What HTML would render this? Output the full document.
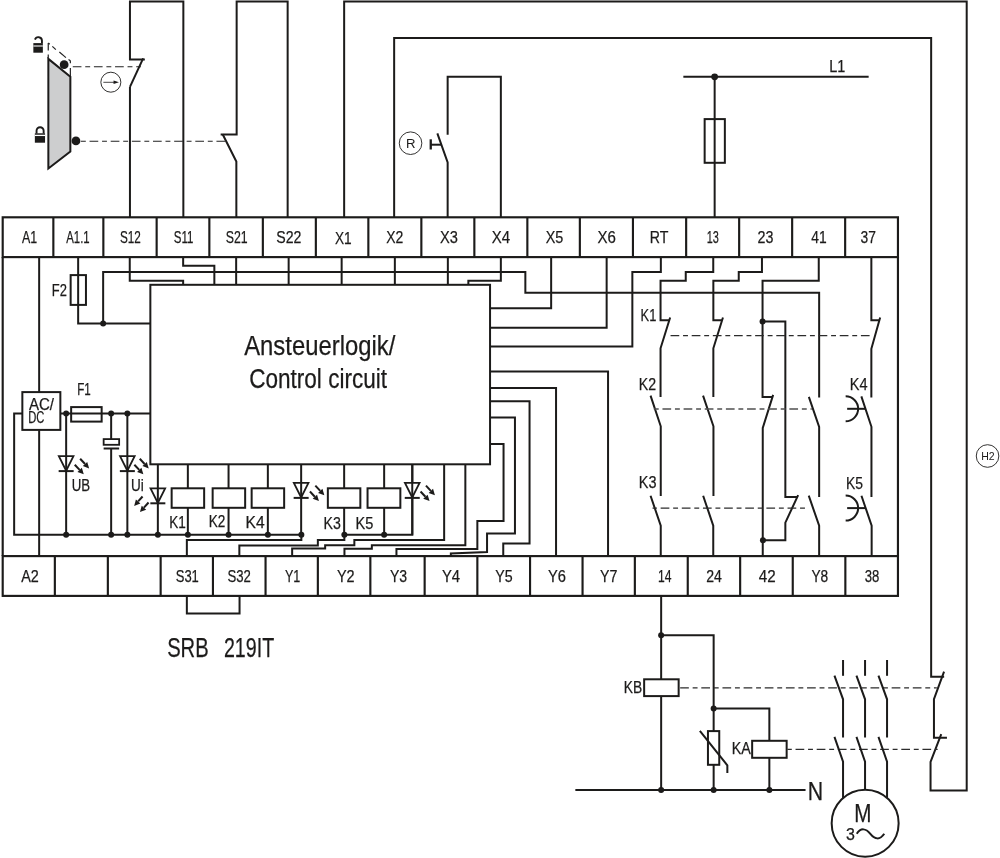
<!DOCTYPE html>
<html><head><meta charset="utf-8"><title>SRB 219IT wiring diagram</title>
<style>
html,body{margin:0;padding:0;background:#fff;}
body{width:1000px;height:858px;overflow:hidden;}
svg{display:block;will-change:transform;}
svg text{font-family:"Liberation Sans",sans-serif;fill:#1c1b1a;stroke:#1c1b1a;stroke-width:0.25px;stroke-linejoin:round;}
</style></head><body>
<svg width="1000" height="858" viewBox="0 0 1000 858" fill="none" stroke="#1c1b1a" stroke-linecap="butt" stroke-linejoin="miter">
<rect x="0" y="0" width="1000" height="858" fill="#fff" stroke="none"/>
<g transform="translate(0.35,0.3)">
<polyline points="129.6,217 129.6,86.6" stroke-width="2.0" />
<polyline points="129.6,86.6 142.8,58" stroke-width="2.0" />
<polyline points="144.5,59.2 129.6,59.2 129.6,1.15 183,1.15 183,217" stroke-width="2.0" />
<polyline points="236,217 236,161.3 222.3,134" stroke-width="2.0" />
<polyline points="220.3,134.3 236.3,134.3 236.3,1.15 287.3,1.15 287.3,217" stroke-width="2.0" />
<polyline points="343.8,217 343.8,1.15 966.35,1.15 966.35,790.2 930.2,790.2 930.2,761.6 940.9,733.8" stroke-width="2.0" />
<polyline points="946.6,737.4 933.6,737.4 933.6,698.8 943.7,671.4" stroke-width="2.0" />
<polyline points="943.8,676.4 930.8,676.4 930.8,37.6 393.8,37.6 393.8,217" stroke-width="2.0" />
<polyline points="447.3,217 447.3,162 437,133" stroke-width="2.0" />
<polyline points="447.3,134.4 447.3,76.5 500.5,76.5 500.5,217" stroke-width="2.0" />
<polyline points="430.4,144.4 441.2,144.4" stroke-width="2.0" />
<polyline points="430.4,139 430.4,149.2" stroke-width="2.3" />
<circle cx="410.2" cy="142.9" r="11.3" stroke-width="0.9"/>
<text x="410.4" y="147.7" font-size="13.2" text-anchor="middle" style="stroke:none">R</text>
<polyline points="683,76.5 868.3,76.5" stroke-width="2.0" />
<polyline points="714.3,76.5 714.3,217" stroke-width="2.0" />
<circle cx="714.3" cy="76.5" r="3.4" fill="#1c1b1a" stroke="none"/>
<rect x="704.3" y="118.8" width="20.2" height="43.7" stroke-width="2.0" fill="none"/>
<text x="828.9" y="71.8" font-size="17" textLength="16.1" lengthAdjust="spacingAndGlyphs" >L1</text>
<polygon points="48.0,58.6 70.0,76.4 70.0,151.2 48.0,168.2" fill="#cdcecf" stroke-width="2" stroke-linejoin="miter"/>
<line x1="47.9" y1="42.6" x2="47.9" y2="50.3" stroke="#222" stroke-width="1.2"/>
<line x1="47.9" y1="54.2" x2="47.9" y2="58" stroke="#222" stroke-width="1.2"/>
<line x1="47.9" y1="42.7" x2="49.4" y2="43.9" stroke="#222" stroke-width="1.2"/>
<line x1="52" y1="46.1" x2="55.5" y2="49.3" stroke="#222" stroke-width="1.2"/>
<line x1="59" y1="51.7" x2="65.6" y2="57.3" stroke="#222" stroke-width="1.2"/>
<line x1="68.2" y1="59.3" x2="70.0" y2="60.5" stroke="#222" stroke-width="1.2"/>
<line x1="70.0" y1="60.3" x2="70.0" y2="63.0" stroke="#222" stroke-width="1.2"/>
<line x1="70.0" y1="67.8" x2="70.0" y2="76" stroke="#222" stroke-width="1.2"/>
<circle cx="63.8" cy="64.4" r="4.4" fill="#1c1b1a" stroke="none"/>
<circle cx="75.6" cy="140.6" r="4.4" fill="#1c1b1a" stroke="none"/>
<line x1="71.5" y1="66.4" x2="140.6" y2="66.4" stroke="#222" stroke-width="1.15" stroke-dasharray="8.7 3.8 4.9 3.75" stroke-dashoffset="20.25"/>
<line x1="79.5" y1="140.9" x2="226" y2="140.9" stroke="#222" stroke-width="1.15" stroke-dasharray="8.7 3.8 4.9 3.75" stroke-dashoffset="11.45"/>
<circle cx="110.5" cy="81.9" r="10" stroke-width="0.9"/>
<line x1="103" y1="82" x2="116" y2="82" stroke-width="0.8"/>
<polygon points="118.6,82 113.2,80.2 113.2,83.8" fill="#1c1b1a" stroke="none"/>
<rect x="33.0" y="42.8" width="9.5" height="9.6" fill="#1c1b1a" stroke="none"/>
<line x1="33.0" y1="45.7" x2="42.5" y2="45.7" stroke="#ddd" stroke-width="1.3"/>
<path d="M41.6,43 V40.3 A3.6,3.6 0 0 0 34.6,39.3" stroke-width="1.9"/>
<rect x="34.5" y="133.0" width="10.2" height="9.4" fill="#1c1b1a" stroke="none"/>
<line x1="34.5" y1="135.1" x2="44.7" y2="135.1" stroke="#fff" stroke-width="1.3"/>
<path d="M36.2,133.2 V130.5 A3.55,3.55 0 0 1 43.3,130.5 V133.2" stroke-width="1.9"/>
<rect x="2.35" y="217" width="895.25" height="39.8" stroke-width="2.15" fill="none"/>
<rect x="2.35" y="555.8" width="895.25" height="39.8" stroke-width="2.15" fill="none"/>
<polyline points="2.35,256.8 2.35,555.8" stroke-width="2.15" />
<polyline points="897.6,256.8 897.6,555.8" stroke-width="2.15" />
<polyline points="53,217 53,256.8" stroke-width="2.15" />
<polyline points="103,217 103,256.8" stroke-width="2.15" />
<polyline points="156.3,217 156.3,256.8" stroke-width="2.15" />
<polyline points="209,217 209,256.8" stroke-width="2.15" />
<polyline points="262.5,217 262.5,256.8" stroke-width="2.15" />
<polyline points="315.5,217 315.5,256.8" stroke-width="2.15" />
<polyline points="368,217 368,256.8" stroke-width="2.15" />
<polyline points="421,217 421,256.8" stroke-width="2.15" />
<polyline points="474,217 474,256.8" stroke-width="2.15" />
<polyline points="527,217 527,256.8" stroke-width="2.15" />
<polyline points="579.5,217 579.5,256.8" stroke-width="2.15" />
<polyline points="632.6,217 632.6,256.8" stroke-width="2.15" />
<polyline points="685.8,217 685.8,256.8" stroke-width="2.15" />
<polyline points="738.8,217 738.8,256.8" stroke-width="2.15" />
<polyline points="791.8,217 791.8,256.8" stroke-width="2.15" />
<polyline points="844.8,217 844.8,256.8" stroke-width="2.15" />
<polyline points="54.5,555.8 54.5,595.6" stroke-width="2.15" />
<polyline points="107.5,555.8 107.5,595.6" stroke-width="2.15" />
<polyline points="160.3,555.8 160.3,595.6" stroke-width="2.15" />
<polyline points="212.6,555.8 212.6,595.6" stroke-width="2.15" />
<polyline points="265.2,555.8 265.2,595.6" stroke-width="2.15" />
<polyline points="317.5,555.8 317.5,595.6" stroke-width="2.15" />
<polyline points="370,555.8 370,595.6" stroke-width="2.15" />
<polyline points="424.3,555.8 424.3,595.6" stroke-width="2.15" />
<polyline points="477,555.8 477,595.6" stroke-width="2.15" />
<polyline points="529.7,555.8 529.7,595.6" stroke-width="2.15" />
<polyline points="582.2,555.8 582.2,595.6" stroke-width="2.15" />
<polyline points="634.5,555.8 634.5,595.6" stroke-width="2.15" />
<polyline points="687.4,555.8 687.4,595.6" stroke-width="2.15" />
<polyline points="739.8,555.8 739.8,595.6" stroke-width="2.15" />
<polyline points="792.4,555.8 792.4,595.6" stroke-width="2.15" />
<polyline points="845,555.8 845,595.6" stroke-width="2.15" />
<text x="21.6" y="242.8" font-size="17" textLength="15.2" lengthAdjust="spacingAndGlyphs" >A1</text>
<text x="65.9" y="242.8" font-size="17" textLength="23.4" lengthAdjust="spacingAndGlyphs" >A1.1</text>
<text x="119.6" y="242.8" font-size="17" textLength="20.9" lengthAdjust="spacingAndGlyphs" >S12</text>
<text x="173.4" y="242.8" font-size="17" textLength="19.6" lengthAdjust="spacingAndGlyphs" >S11</text>
<text x="225.4" y="242.8" font-size="17" textLength="21.9" lengthAdjust="spacingAndGlyphs" >S21</text>
<text x="275.9" y="242.8" font-size="17" textLength="25.1" lengthAdjust="spacingAndGlyphs" >S22</text>
<text x="385.9" y="242.8" font-size="17" textLength="17.1" lengthAdjust="spacingAndGlyphs" >X2</text>
<text x="439.6" y="242.8" font-size="17" textLength="17.9" lengthAdjust="spacingAndGlyphs" >X3</text>
<text x="491.4" y="242.8" font-size="17" textLength="18.4" lengthAdjust="spacingAndGlyphs" >X4</text>
<text x="545.4" y="242.8" font-size="17" textLength="17.6" lengthAdjust="spacingAndGlyphs" >X5</text>
<text x="597.1" y="242.8" font-size="17" textLength="18.4" lengthAdjust="spacingAndGlyphs" >X6</text>
<text x="649.4" y="242.8" font-size="17" textLength="18.6" lengthAdjust="spacingAndGlyphs" >RT</text>
<text x="706.4" y="242.8" font-size="17" textLength="12.1" lengthAdjust="spacingAndGlyphs" >13</text>
<text x="757.1" y="242.8" font-size="17" textLength="15.9" lengthAdjust="spacingAndGlyphs" >23</text>
<text x="810.9" y="242.8" font-size="17" textLength="15.4" lengthAdjust="spacingAndGlyphs" >41</text>
<text x="860.1" y="242.8" font-size="17" textLength="15.4" lengthAdjust="spacingAndGlyphs" >37</text>
<text x="334.6" y="244.2" font-size="17" textLength="16.7" lengthAdjust="spacingAndGlyphs" >X1</text>
<text x="20.9" y="581.6" font-size="17" textLength="17.6" lengthAdjust="spacingAndGlyphs" >A2</text>
<text x="175.4" y="581.6" font-size="17" textLength="23.1" lengthAdjust="spacingAndGlyphs" >S31</text>
<text x="227.1" y="581.6" font-size="17" textLength="23.4" lengthAdjust="spacingAndGlyphs" >S32</text>
<text x="284.6" y="581.6" font-size="17" textLength="15.4" lengthAdjust="spacingAndGlyphs" >Y1</text>
<text x="336.6" y="581.6" font-size="17" textLength="17.7" lengthAdjust="spacingAndGlyphs" >Y2</text>
<text x="389.6" y="581.6" font-size="17" textLength="17.2" lengthAdjust="spacingAndGlyphs" >Y3</text>
<text x="441.6" y="581.6" font-size="17" textLength="18.2" lengthAdjust="spacingAndGlyphs" >Y4</text>
<text x="494.9" y="581.6" font-size="17" textLength="17.4" lengthAdjust="spacingAndGlyphs" >Y5</text>
<text x="547.6" y="581.6" font-size="17" textLength="18" lengthAdjust="spacingAndGlyphs" >Y6</text>
<text x="599.6" y="581.6" font-size="17" textLength="17.4" lengthAdjust="spacingAndGlyphs" >Y7</text>
<text x="657.6" y="581.6" font-size="17" textLength="13.5" lengthAdjust="spacingAndGlyphs" >14</text>
<text x="705.8" y="581.6" font-size="17" textLength="15.7" lengthAdjust="spacingAndGlyphs" >24</text>
<text x="758.4" y="581.6" font-size="17" textLength="16.9" lengthAdjust="spacingAndGlyphs" >42</text>
<text x="811.1" y="581.6" font-size="17" textLength="16.8" lengthAdjust="spacingAndGlyphs" >Y8</text>
<text x="864.3" y="581.6" font-size="17" textLength="14.6" lengthAdjust="spacingAndGlyphs" >38</text>
<polyline points="38.8,256.8 38.8,391.8" stroke-width="2.0" />
<polyline points="38.8,430 38.8,555.8" stroke-width="2.0" />
<rect x="22" y="391.8" width="38" height="37.8" stroke-width="2.0" fill="none"/>
<text x="28.6" y="409.5" font-size="16.4" textLength="25.1" lengthAdjust="spacingAndGlyphs" >AC/</text>
<text x="27.9" y="423" font-size="16.2" textLength="16.2" lengthAdjust="spacingAndGlyphs" >DC</text>
<polyline points="77.8,256.8 77.8,323.2 150,323.2" stroke-width="2.0" />
<rect x="70.3" y="274.8" width="15.3" height="29.8" stroke-width="2.0" fill="none"/>
<text x="51.4" y="295.8" font-size="17" textLength="15.1" lengthAdjust="spacingAndGlyphs" >F2</text>
<circle cx="102.8" cy="323.3" r="3" fill="#1c1b1a" stroke="none"/>
<polyline points="102.8,323.2 102.8,271.8 525,271.8 525,292.5 818.8,292.5 818.8,397.3" stroke-width="2.0" />
<polyline points="129.4,256.8 129.4,280.5 182.8,280.5 182.8,284.5" stroke-width="2.0" />
<polyline points="182.8,256.8 182.8,265.5 214,265.5 214,284.5" stroke-width="2.0" />
<polyline points="235.8,256.8 235.8,284.5" stroke-width="2.0" />
<polyline points="288.3,256.8 288.3,284.5" stroke-width="2.0" />
<polyline points="341.3,256.8 341.3,284.5" stroke-width="2.0" />
<polyline points="394.5,256.8 394.5,284.5" stroke-width="2.0" />
<polyline points="447.5,256.8 447.5,284.5" stroke-width="2.0" />
<polyline points="500.5,256.8 500.5,280.5 468,280.5 468,284.5" stroke-width="2.0" />
<rect x="150" y="284.5" width="339.7" height="179.5" stroke-width="2.0" fill="none"/>
<text x="243.8" y="354.3" font-size="27.5" textLength="151.2" lengthAdjust="spacingAndGlyphs" >Ansteuerlogik/</text>
<text x="248.8" y="388.1" font-size="27.5" textLength="137.9" lengthAdjust="spacingAndGlyphs" >Control circuit</text>
<polyline points="550.8,256.8 550.8,308 489.7,308" stroke-width="2.0" />
<polyline points="606.3,256.8 606.3,327.5 489.7,327.5" stroke-width="2.0" />
<polyline points="660.5,256.8 660.5,271.8 632,271.8 632,346.3 489.7,346.3" stroke-width="2.0" />
<polyline points="489.7,371.3 607.7,371.3 607.7,555.8" stroke-width="2.0" />
<polyline points="489.7,387.6 555.7,387.6 555.7,555.8" stroke-width="2.0" />
<polyline points="489.7,401 529.2,401 529.2,543.3 502.9,543.3 502.9,555.8" stroke-width="2.0" />
<polyline points="489.7,417.2 514.6,417.2 514.6,533.3 486.7,533.3 486.7,551.8 450.5,553.2 450.5,555.8" stroke-width="2.0" />
<polyline points="489.7,443.6 503.2,443.6 503.2,520.6 477,520.6 477,548.6 396.1,548.6 396.1,555.8" stroke-width="2.0" />
<polyline points="465,464 465,545 371.5,545 371.5,548.4 344.1,548.4 344.1,555.8" stroke-width="2.0" />
<polyline points="443.8,464 443.8,539.7 354,539.7 354,545 324.8,545 324.8,548.3 291.8,548.3 291.8,555.8" stroke-width="2.0" />
<polyline points="186.5,555.8 186.5,539.8 301,539.8 301,534.5" stroke-width="2.0" />
<polyline points="239,555.8 239,545.3 317.5,545.3 317.5,539.8 344,539.8 344,534.5" stroke-width="2.0" />
<polyline points="186.5,595.6 186.5,613.3 239.2,613.3 239.2,595.6" stroke-width="2.0" />
<polyline points="22.5,413.3 13.8,413.3 13.8,534.5 301,534.5" stroke-width="2.0" />
<polyline points="344,534.5 412,534.5 412,464" stroke-width="2.0" />
<polyline points="60,413.3 150,413.3" stroke-width="2.0" />
<rect x="70.8" y="406.8" width="30.5" height="14.5" stroke-width="2.0" fill="none"/>
<text x="76.9" y="394.4" font-size="17" textLength="13.6" lengthAdjust="spacingAndGlyphs" >F1</text>
<circle cx="65.8" cy="413.3" r="3" fill="#1c1b1a" stroke="none"/>
<circle cx="110.8" cy="413.3" r="3" fill="#1c1b1a" stroke="none"/>
<circle cx="127" cy="413.3" r="3" fill="#1c1b1a" stroke="none"/>
<circle cx="65.8" cy="534.5" r="3" fill="#1c1b1a" stroke="none"/>
<circle cx="110.8" cy="534.5" r="3" fill="#1c1b1a" stroke="none"/>
<circle cx="127" cy="534.5" r="3" fill="#1c1b1a" stroke="none"/>
<circle cx="157.5" cy="534.5" r="3" fill="#1c1b1a" stroke="none"/>
<circle cx="187.5" cy="534.5" r="3" fill="#1c1b1a" stroke="none"/>
<circle cx="228.2" cy="534.5" r="3" fill="#1c1b1a" stroke="none"/>
<circle cx="267.5" cy="534.5" r="3" fill="#1c1b1a" stroke="none"/>
<circle cx="301" cy="534.5" r="3" fill="#1c1b1a" stroke="none"/>
<circle cx="344" cy="534.5" r="3" fill="#1c1b1a" stroke="none"/>
<circle cx="383.8" cy="534.5" r="3" fill="#1c1b1a" stroke="none"/>
<polyline points="65.8,413.3 65.8,534.5" stroke-width="2.0" />
<polygon points="58.5,455.8 73.1,455.8 65.8,470.4" fill="#fff" stroke-width="1.8"/>
<polyline points="65.8,455.8 65.8,470.4" stroke-width="2.0" />
<polyline points="58.3,470.8 73.3,470.8" stroke-width="2.0" />
<polyline points="127,413.3 127,534.5" stroke-width="2.0" />
<polygon points="119.7,455.8 134.3,455.8 127,470.4" fill="#fff" stroke-width="1.8"/>
<polyline points="127,455.8 127,470.4" stroke-width="2.0" />
<polyline points="119.5,470.8 134.5,470.8" stroke-width="2.0" />
<polyline points="157.5,464 157.5,534.5" stroke-width="2.0" />
<polygon points="150.2,488 164.8,488 157.5,502.6" fill="#fff" stroke-width="1.8"/>
<polyline points="157.5,488 157.5,502.6" stroke-width="2.0" />
<polyline points="150,503 165,503" stroke-width="2.0" />
<polyline points="300.8,464 300.8,534.5" stroke-width="2.0" />
<polygon points="293.5,482.6 308.1,482.6 300.8,497.2" fill="#fff" stroke-width="1.8"/>
<polyline points="300.8,482.6 300.8,497.2" stroke-width="2.0" />
<polyline points="293.3,497.6 308.3,497.6" stroke-width="2.0" />
<polyline points="411.9,464 411.9,534.5" stroke-width="2.0" />
<polygon points="404.6,482.6 419.2,482.6 411.9,497.2" fill="#fff" stroke-width="1.8"/>
<polyline points="411.9,482.6 411.9,497.2" stroke-width="2.0" />
<polyline points="404.4,497.6 419.4,497.6" stroke-width="2.0" />
<line x1="74.4" y1="464.4" x2="79.2964" y2="469.623" stroke-width="2.0"/>
<polygon points="83.4,474 77.1077,471.675 81.485,467.571" fill="#1c1b1a" stroke="none"/>
<line x1="79.8" y1="458.5" x2="84.6964" y2="463.723" stroke-width="2.0"/>
<polygon points="88.8,468.1 82.5077,465.775 86.885,461.671" fill="#1c1b1a" stroke="none"/>
<line x1="134" y1="464.4" x2="138.896" y2="469.623" stroke-width="2.0"/>
<polygon points="143,474 136.708,471.675 141.085,467.571" fill="#1c1b1a" stroke="none"/>
<line x1="139.4" y1="458.5" x2="144.296" y2="463.723" stroke-width="2.0"/>
<polygon points="148.4,468.1 142.108,465.775 146.485,461.671" fill="#1c1b1a" stroke="none"/>
<line x1="309.6" y1="491.2" x2="314.496" y2="496.423" stroke-width="2.0"/>
<polygon points="318.6,500.8 312.308,498.475 316.685,494.371" fill="#1c1b1a" stroke="none"/>
<line x1="315" y1="485.3" x2="319.896" y2="490.523" stroke-width="2.0"/>
<polygon points="324,494.9 317.708,492.575 322.085,488.471" fill="#1c1b1a" stroke="none"/>
<line x1="420.2" y1="491.2" x2="425.096" y2="496.423" stroke-width="2.0"/>
<polygon points="429.2,500.8 422.908,498.475 427.285,494.371" fill="#1c1b1a" stroke="none"/>
<line x1="425.6" y1="485.3" x2="430.496" y2="490.523" stroke-width="2.0"/>
<polygon points="434.6,494.9 428.308,492.575 432.685,488.471" fill="#1c1b1a" stroke="none"/>
<line x1="142.2" y1="496.2" x2="137.798" y2="501.126" stroke-width="2.0"/>
<polygon points="133.8,505.6 135.561,499.127 140.035,503.125" fill="#1c1b1a" stroke="none"/>
<line x1="148.2" y1="502.2" x2="143.603" y2="507.331" stroke-width="2.0"/>
<polygon points="139.6,511.8 141.369,505.329 145.838,509.333" fill="#1c1b1a" stroke="none"/>
<text x="71.4" y="491.1" font-size="16.5" textLength="18.4" lengthAdjust="spacingAndGlyphs" >UB</text>
<text x="130.7" y="491.1" font-size="16.5" textLength="12.8" lengthAdjust="spacingAndGlyphs" >Ui</text>
<polyline points="110.8,413.3 110.8,438.8" stroke-width="2.0" />
<rect x="103.3" y="438.8" width="15.5" height="5.7" stroke-width="1.8" fill="none"/>
<polyline points="103.3,448.2 118.8,448.2" stroke-width="2.0" />
<polyline points="110.8,448.2 110.8,534.5" stroke-width="2.0" />
<polyline points="187.5,464 187.5,488" stroke-width="2.0" />
<polyline points="187.5,507.5 187.5,534.5" stroke-width="2.0" />
<rect x="171.3" y="488" width="32.5" height="19.5" stroke-width="2.0" fill="none"/>
<polyline points="228.2,464 228.2,488" stroke-width="2.0" />
<polyline points="228.2,507.5 228.2,534.5" stroke-width="2.0" />
<rect x="212.3" y="488" width="32.5" height="19.5" stroke-width="2.0" fill="none"/>
<polyline points="267.5,464 267.5,488" stroke-width="2.0" />
<polyline points="267.5,507.5 267.5,534.5" stroke-width="2.0" />
<rect x="251.3" y="488" width="32.5" height="19.5" stroke-width="2.0" fill="none"/>
<polyline points="343.8,464 343.8,488" stroke-width="2.0" />
<polyline points="343.8,507.5 343.8,534.5" stroke-width="2.0" />
<rect x="327.5" y="488" width="32.5" height="19.5" stroke-width="2.0" fill="none"/>
<polyline points="383.8,464 383.8,488" stroke-width="2.0" />
<polyline points="383.8,507.5 383.8,534.5" stroke-width="2.0" />
<rect x="367.2" y="488" width="32.8" height="19.5" stroke-width="2.0" fill="none"/>
<text x="168.9" y="527.9" font-size="16.3" textLength="16.6" lengthAdjust="spacingAndGlyphs" >K1</text>
<text x="208.4" y="527.1" font-size="16.3" textLength="16.6" lengthAdjust="spacingAndGlyphs" >K2</text>
<text x="245.2" y="527.9" font-size="16.3" textLength="19.1" lengthAdjust="spacingAndGlyphs" >K4</text>
<text x="323.2" y="528.8" font-size="16.3" textLength="17.3" lengthAdjust="spacingAndGlyphs" >K3</text>
<text x="355.2" y="528.8" font-size="16.3" textLength="17.8" lengthAdjust="spacingAndGlyphs" >K5</text>
<polyline points="712.9,256.8 712.9,271.8 685.4,271.8 685.4,280.5 660.2,280.5 660.2,320 668.6,320" stroke-width="2.0" />
<polyline points="669.8,317.2 660.2,348 660.2,396.8" stroke-width="2.0" />
<polyline points="650.2,395.3 660.4,426 660.4,495.8" stroke-width="2.0" />
<polyline points="650.2,495.4 660.4,525.4 660.4,555.8" stroke-width="2.0" />
<polyline points="761.6,256.8 761.6,271.8 738.4,271.8 738.4,280.5 713,280.5 713,320 721.6,320" stroke-width="2.0" />
<polyline points="722.6,317.2 713,348 713,396.8" stroke-width="2.0" />
<polyline points="702.7,395.3 713.1,426 713.1,495.8" stroke-width="2.0" />
<polyline points="702.8,495.4 712.9,525.4 712.9,555.8" stroke-width="2.0" />
<polyline points="818.4,256.8 818.4,280.5 762.2,280.5 762.2,396.6 772.1,396.6" stroke-width="2.0" />
<polyline points="772.8,394.6 762.4,427.7 762.4,555.8" stroke-width="2.0" />
<circle cx="762.2" cy="321.3" r="3" fill="#1c1b1a" stroke="none"/>
<polyline points="762.2,321.3 785,321.3 785,496.6 797.1,496.6" stroke-width="2.0" />
<polyline points="797.8,494.8 785,522.4 785,540 762.6,540" stroke-width="2.0" />
<circle cx="762.6" cy="540" r="3" fill="#1c1b1a" stroke="none"/>
<polyline points="808.5,396.6 818.8,426.5 818.8,496.6" stroke-width="2.0" />
<polyline points="808.4,495.4 818.8,525.4 818.8,555.8" stroke-width="2.0" />
<polyline points="871,256.8 871,320 878.6,320" stroke-width="2.0" />
<polyline points="879.8,317.2 871,348.5 871,397.3" stroke-width="2.0" />
<polyline points="861,396.1 871.1,426.5 871.1,496.6" stroke-width="2.0" />
<polyline points="861.1,495.4 871.3,525.4 871.3,555.8" stroke-width="2.0" />
<path d="M845.3,396 A12.5,12.5 0 0 1 845.3,421" stroke-width="2"/>
<polyline points="846.8,408.5 865.5,408.5" stroke-width="2.0" />
<path d="M845.3,495.3 A12.5,12.5 0 0 1 845.3,520.3" stroke-width="2"/>
<polyline points="846.8,507.8 865.5,507.8" stroke-width="2.0" />
<line x1="667.5" y1="335.3" x2="873" y2="335.3" stroke="#2c2c2c" stroke-width="1.2" stroke-dasharray="8.7 3.8 4.9 3.75" stroke-dashoffset="18.45"/>
<line x1="652.2" y1="408.6" x2="811.5" y2="408.6" stroke="#505050" stroke-width="1.55" stroke-dasharray="8.7 3.8 4.9 3.75" stroke-dashoffset="11.25"/>
<line x1="652.2" y1="507.8" x2="806" y2="507.8" stroke="#2c2c2c" stroke-width="1.2" stroke-dasharray="8.7 3.8 4.9 3.75" stroke-dashoffset="13.05"/>
<text x="640.2" y="320.5" font-size="16.5" textLength="15.8" lengthAdjust="spacingAndGlyphs" >K1</text>
<text x="638.4" y="389.4" font-size="16.5" textLength="17.3" lengthAdjust="spacingAndGlyphs" >K2</text>
<text x="638.4" y="487.5" font-size="16.5" textLength="17.7" lengthAdjust="spacingAndGlyphs" >K3</text>
<text x="849.4" y="390.2" font-size="16.5" textLength="17.8" lengthAdjust="spacingAndGlyphs" >K4</text>
<text x="845.7" y="489.2" font-size="16.5" textLength="17" lengthAdjust="spacingAndGlyphs" >K5</text>
<polyline points="660.8,595.6 660.8,789.6" stroke-width="2.0" />
<circle cx="660.8" cy="635" r="3" fill="#1c1b1a" stroke="none"/>
<polyline points="660.8,635 713.3,635 713.3,789.6" stroke-width="2.0" />
<rect x="643.8" y="679" width="34.5" height="16.8" stroke-width="2.0" fill="#fff"/>
<text x="623.4" y="692.5" font-size="16" textLength="18.4" lengthAdjust="spacingAndGlyphs" >KB</text>
<circle cx="713.3" cy="708.3" r="3" fill="#1c1b1a" stroke="none"/>
<polyline points="713.3,708.3 769,708.3 769,789.6" stroke-width="2.0" />
<rect x="751.8" y="740.5" width="34.5" height="17" stroke-width="2.0" fill="#fff"/>
<text x="731.4" y="753.8" font-size="16" textLength="19.1" lengthAdjust="spacingAndGlyphs" >KA</text>
<rect x="707.6" y="730.8" width="11.3" height="33.7" stroke-width="2.0" fill="#fff"/>
<polyline points="699.5,730.6 727,765 727,772.6" stroke-width="2.0" />
<polyline points="575,789.6 805.2,789.6" stroke-width="2.0" />
<circle cx="660.8" cy="789.6" r="3" fill="#1c1b1a" stroke="none"/>
<circle cx="713.3" cy="789.6" r="3" fill="#1c1b1a" stroke="none"/>
<circle cx="769" cy="789.6" r="3" fill="#1c1b1a" stroke="none"/>
<line x1="679" y1="687.6" x2="936.5" y2="687.6" stroke="#2c2c2c" stroke-width="1.2" stroke-dasharray="8.7 3.8 4.9 3.75" stroke-dashoffset="20.35"/>
<line x1="787" y1="749" x2="937.3" y2="749" stroke="#2c2c2c" stroke-width="1.2" stroke-dasharray="8.7 3.8 4.9 3.75" stroke-dashoffset="12.95"/>
<text x="807.5" y="799.4" font-size="26.2" textLength="15.4" lengthAdjust="spacingAndGlyphs" >N</text>
<polyline points="842.7,659.7 842.7,675.5" stroke-width="2.0" />
<polyline points="834.1,675.4 842.7,699 842.7,737.1" stroke-width="2.0" />
<polyline points="834.1,736.6 842.7,761.4 842.7,800" stroke-width="2.0" />
<polyline points="864.7,659.7 864.7,675.5" stroke-width="2.0" />
<polyline points="856.1,675.4 864.7,699 864.7,737.1" stroke-width="2.0" />
<polyline points="856.1,736.6 864.7,761.4 864.7,800" stroke-width="2.0" />
<polyline points="886.7,659.7 886.7,675.5" stroke-width="2.0" />
<polyline points="878.1,675.4 886.7,699 886.7,737.1" stroke-width="2.0" />
<polyline points="878.1,736.6 886.7,761.4 886.7,800" stroke-width="2.0" />
<circle cx="864.8" cy="822.9" r="33.5" fill="#fff" stroke-width="2"/>
<text x="853.9" y="822.1" font-size="26.2" textLength="17.2" lengthAdjust="spacingAndGlyphs" >M</text>
<text x="845.6" y="840.2" font-size="16.8" textLength="8.9" lengthAdjust="spacingAndGlyphs" >3</text>
<path d="M856.4,833.4 C860.5,827.2 865.5,828 870,833.6 C874.5,839.2 879.5,840 883.9,833.4" stroke-width="2"/>
<circle cx="987.2" cy="455.7" r="11.3" stroke-width="0.9"/>
<text x="987.5" y="459.6" font-size="10.5" text-anchor="middle" style="stroke:none">H2</text>
<text x="166.8" y="656.4" font-size="28" textLength="41.5" lengthAdjust="spacingAndGlyphs" >SRB</text>
<text x="223.6" y="656.4" font-size="28" textLength="50.2" lengthAdjust="spacingAndGlyphs" >219IT</text>
</g>
</svg>
</body></html>
